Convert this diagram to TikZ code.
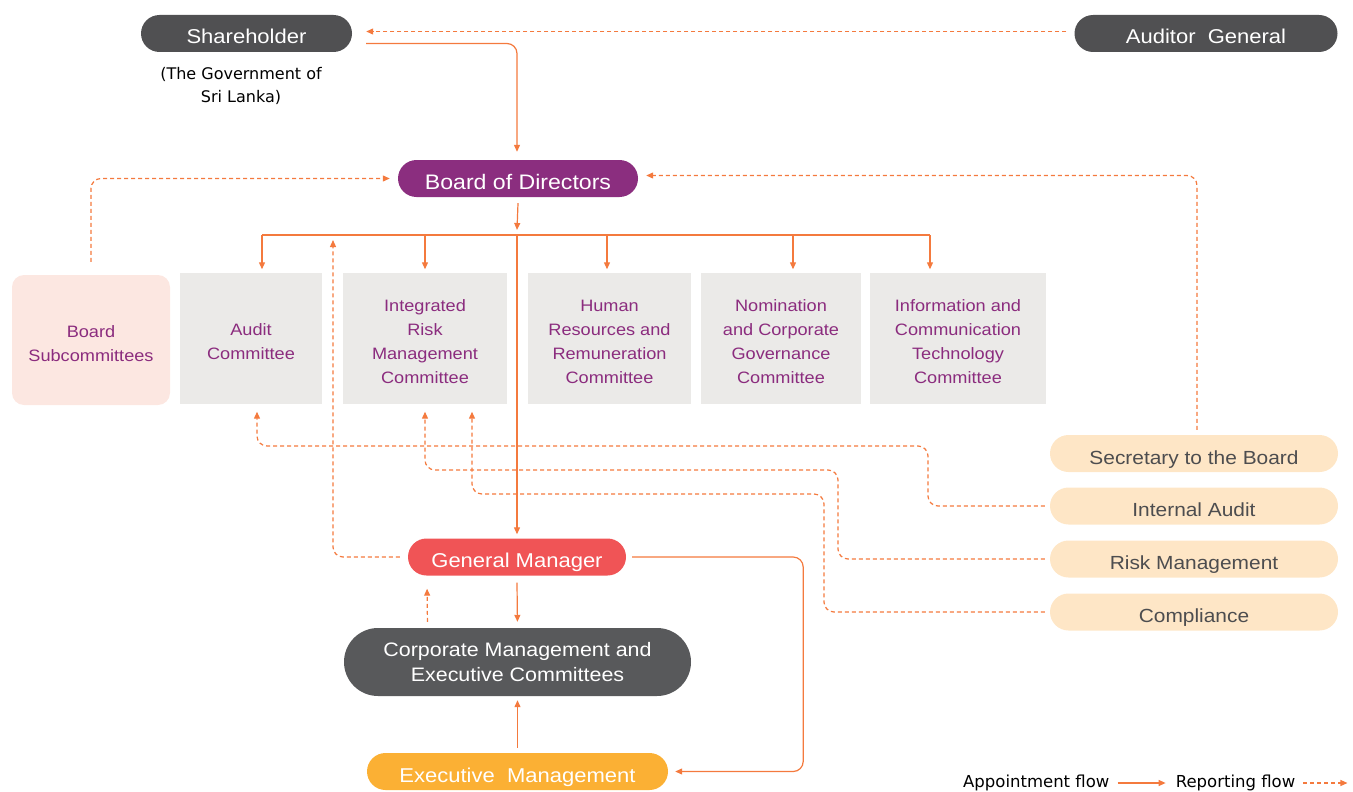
\documentclass[tikz,border=0pt]{standalone}
\usepackage{fontspec}
\setmainfont{Liberation Sans}[FakeStretch=1.1]
\newfontfamily\legendfont{DejaVu Sans}
\usepackage{tikz}
\usetikzlibrary{arrows.meta,positioning,shapes.misc,calc}

\definecolor{flow}{HTML}{F47A3E}
\definecolor{darkpill}{HTML}{505052}
\definecolor{cmpill}{HTML}{58595B}
\definecolor{boardpurple}{HTML}{8B2E7F}
\definecolor{gmred}{HTML}{F05456}
\definecolor{emyellow}{HTML}{FBB034}
\definecolor{subpink}{HTML}{FCE7E1}
\definecolor{cmtgray}{HTML}{EBEAE8}
\definecolor{cmttext}{HTML}{8B2C7E}
\definecolor{unitpeach}{HTML}{FEE6C6}
\definecolor{unittext}{HTML}{4D4D4F}

% taller first line, pushes the committee names down a bit
\newcommand\cmtlift{\rule{0pt}{20pt}}

\begin{document}
\begin{tikzpicture}[
		x=1pt, y=-1pt,
		pill/.style={rounded rectangle, minimum height=37pt, inner sep=0pt, text=white, text height=21pt, text depth=0pt, font=\fontsize{20}{24}\selectfont},
		cmte/.style={rectangle, fill=cmtgray, minimum height=131pt, inner sep=0pt, align=center, text=cmttext,
			font=\fontsize{16.5}{24}\selectfont},
		unit/.style={pill, fill=unitpeach, minimum width=288pt, text=unittext, font=\fontsize{19}{23}\selectfont},
		appoint/.style={draw=flow, line width=1.2pt, -{Triangle[length=7pt,width=6pt]}, rounded corners=10pt},
		report/.style={appoint, dash pattern=on 4pt off 3pt},
		busline/.style={draw=flow, line width=1.2pt},
		legend/.style={font=\legendfont\fontsize{16.5}{19}\selectfont, inner sep=0pt}
		]
	\useasboundingbox (0,0) rectangle (1353,792);

	% --- top row ---
	\node[pill, fill=darkpill, minimum width=211pt] (SH) at (246.5,33.5) {Shareholder};
	\node[align=center, inner sep=0pt, font=\legendfont\fontsize{16}{23}\selectfont] (GOV) at (241,86) {(The Government of\\Sri Lanka)};
	\node[pill, fill=darkpill, minimum width=263pt] (AG) at (1206,33.5) {Auditor\ \ General};
	\node[pill, fill=boardpurple, minimum width=240pt, font=\fontsize{21}{25}\selectfont] (BD) at (518,178.5) {Board of Directors};

	% --- committees ---
	\node[cmte, rounded corners=12pt, fill=subpink, minimum width=158pt, minimum height=130pt] (BS) at (91,340) {\cmtlift Board\\Subcommittees};
	\node[cmte, minimum width=142pt] (AC) at (251,338) {\cmtlift Audit\\Committee};
	\node[cmte, minimum width=164pt] (IRM) at (425,338) {\cmtlift Integrated\\Risk\\Management\\Committee};
	\node[cmte, minimum width=163pt] (HR) at (609.5,338) {\cmtlift Human\\Resources and\\Remuneration\\Committee};
	\node[cmte, minimum width=160pt] (NCG) at (781,338) {\cmtlift Nomination\\and Corporate\\Governance\\Committee};
	\node[cmte, minimum width=176pt] (ICT) at (958,338) {\cmtlift Information and\\Communication\\Technology\\Committee};

	% --- units on the right ---
	\node[unit] (SEC) at (1194,453.5) {Secretary to the Board};
	\node[unit] (IA) at (1194,506) {Internal\ Audit};
	\node[unit] (RM) at (1194,559) {Risk Management};
	\node[unit] (CO) at (1194,612) {Compliance};

	% --- management ---
	\node[pill, fill=gmred, minimum width=218pt] (GM) at (517,557) {General Manager};
	\node[pill, fill=cmpill, minimum width=347pt, minimum height=68pt, text height=, text depth=, align=center,
		font=\fontsize{19.5}{25}\selectfont] (CM) at (517.5,662) {Corporate Management and\\Executive Committees};
	\node[pill, fill=emyellow, minimum width=301pt] (EM) at (517.5,771.5) {Executive\ \ Management};

	% bus under the board
	\coordinate (bus) at (517,235);
	\coordinate (busL) at (262,235);
	\coordinate (busR) at (930,235);
	\coordinate (gmup) at (333,240);

	% Appointment flow
	\draw[appoint, shorten <=14pt, shorten >=8pt] ([yshift=-10pt]SH.east) -| ([xshift=-1pt]BD.north);
	\draw[appoint] ([yshift=-6pt]BD.south) -- ([yshift=5pt]bus);
	\draw[busline] (busL) -- (busR);
	\foreach \n/\x in {AC/262, IRM/425, HR/607, NCG/793, ICT/930}
		\draw[appoint, shorten >=3pt] (\x,235) -- (\x,235 |- \n.north);
	\draw[appoint, shorten >=4pt] (bus) -- (GM.north);
	\draw[appoint, shorten <=6pt, shorten >=7pt] (GM.east) -| ([xshift=135pt]EM.east) -- (EM.east);
	\draw[appoint, shorten >=6pt] ([yshift=-7pt]GM.south) -- (CM.north);
	\draw[appoint, shorten >=4pt] ([yshift=5pt]EM.north) -- (CM.south);

	% Reporting flow
	\draw[report, shorten <=8pt, shorten >=14pt] ([yshift=2pt]AG.west) -- ([yshift=2pt]SH.east);
	\draw[report, shorten >=8pt] ([yshift=13pt]BS.north) |- (BD.west);
	\draw[report, shorten <=5pt, shorten >=8pt] ([xshift=3pt]SEC.north) |- ([yshift=3pt]BD.east);
	\draw[report, shorten <=8pt] (GM.west) -| (gmup);
	\draw[report, shorten <=5pt, shorten >=8pt] (IA.west) -| (928,446) -| ([xshift=6pt]AC.south);
	\draw[report, shorten <=5pt, shorten >=8pt] (RM.west) -| (838,470) -| (IRM.south);
	\draw[report, shorten <=5pt, shorten >=8pt] (CO.west) -| (824,494) -| ([xshift=47pt]IRM.south);
	\draw[report, shorten <=6pt, shorten >=6pt] ([xshift=-90pt]CM.north) -- ([xshift=-90pt,yshift=-7pt]GM.south);

	% --- legend ---
	\node[legend, anchor=west] (lgA) at (963,783) {Appointment flow};
	\node[legend, right=66pt of lgA] (lgR) {Reporting flow};
	\coordinate (lgEnd) at ([xshift=52pt]lgR.east);
	\draw[appoint, shorten <=8pt, shorten >=10pt] (lgA.east) -- (lgR.west);
	\draw[report, shorten <=8pt] (lgR.east) -- (lgEnd);

\end{tikzpicture}
\end{document}
